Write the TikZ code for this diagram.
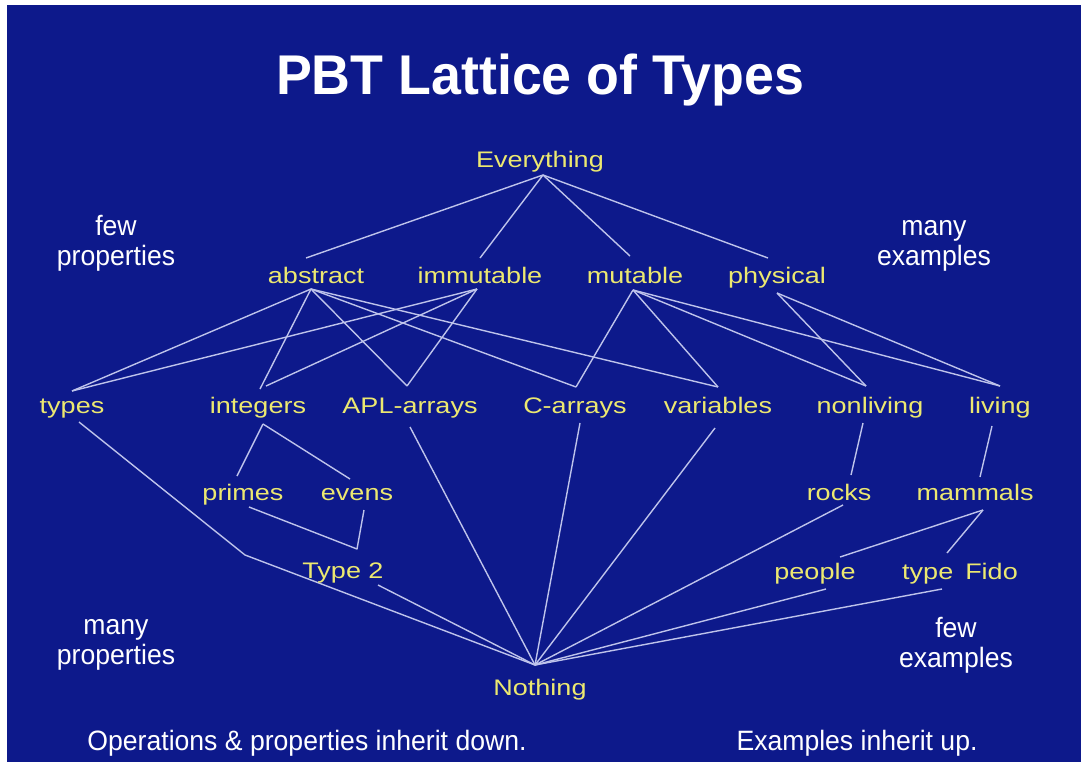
\documentclass[tikz,border=0pt]{standalone}
\usepackage{fontspec}
\newfontfamily\labfam[FakeStretch=1.2]{Liberation Sans}
\newfontfamily\notefam[FakeStretch=0.95]{Liberation Sans}
\newfontfamily\titlefam[FakeStretch=0.96]{Liberation Sans}
\newcommand\labfont{\labfam\fontsize{22.5}{27}\selectfont}
\newcommand\notefont{\notefam\fontsize{28}{30}\selectfont}
\newcommand\titlefont{\titlefam\bfseries\fontsize{56}{60}\selectfont}
\definecolor{bgblue}{RGB}{13,25,139}
\definecolor{labyellow}{RGB}{236,232,112}
\definecolor{linecol}{RGB}{190,195,235}
\tikzset{
  lab/.style={text=labyellow, font=\labfont, inner sep=0pt, anchor=base},
  note/.style={text=white, font=\notefont, inner sep=0pt, anchor=base, align=center},
  link/.style={draw=linecol, line width=1.4pt, line join=round},
}
\begin{document}
\begin{tikzpicture}[x=1pt,y=-1pt]
\useasboundingbox (0,0) rectangle (1081,762);
\fill[white] (0,0) rectangle (1081,762);
\fill[bgblue] (7,5) rectangle (1081,762);

% attachment points
\coordinate (evB) at (543,175);
\coordinate (abT) at (306,258);
\coordinate (imT) at (480,258);
\coordinate (muT) at (630,256);
\coordinate (phT) at (768,258);
\coordinate (abB) at (311,289);
\coordinate (imB) at (477,289);
\coordinate (muB) at (633,290);
\coordinate (phB) at (777,293);
\coordinate (tyT) at (72,391);
\coordinate (tyB) at (79,422);
\coordinate (tyBend) at (245,555);
\coordinate (inT1) at (260,389);
\coordinate (inT2) at (266,386);
\coordinate (inB) at (263,424);
\coordinate (apT) at (407,386);
\coordinate (apB) at (410,427);
\coordinate (caT) at (576,387);
\coordinate (caB) at (580,423);
\coordinate (vaT) at (718,387);
\coordinate (vaB) at (715,428);
\coordinate (nlT) at (866,386);
\coordinate (nlB) at (863,423);
\coordinate (lvT) at (1000,386);
\coordinate (lvB) at (992,426);
\coordinate (prT) at (237,476);
\coordinate (prB) at (249,507);
\coordinate (evT) at (350,479);
\coordinate (evnB) at (364,510);
\coordinate (t2T) at (357,549);
\coordinate (t2B) at (378,585);
\coordinate (rkT) at (851,475);
\coordinate (rkB) at (843,505);
\coordinate (mmT) at (980,477);
\coordinate (mmB) at (983,510);
\coordinate (ppT) at (840,557);
\coordinate (ppB) at (826,589);
\coordinate (tfT) at (947,553);
\coordinate (tfB) at (942,589);
\coordinate (noT) at (535,665);

% connectors
\draw[link] (evB) -- (abT);
\draw[link] (evB) -- (imT);
\draw[link] (evB) -- (muT);
\draw[link] (evB) -- (phT);
\draw[link] (abB) -- (tyT);
\draw[link] (abB) -- (inT1);
\draw[link] (abB) -- (apT);
\draw[link] (abB) -- (caT);
\draw[link] (abB) -- (vaT);
\draw[link] (imB) -- (tyT);
\draw[link] (imB) -- (inT2);
\draw[link] (imB) -- (apT);
\draw[link] (muB) -- (caT);
\draw[link] (muB) -- (vaT);
\draw[link] (muB) -- (nlT);
\draw[link] (muB) -- (lvT);
\draw[link] (phB) -- (nlT);
\draw[link] (phB) -- (lvT);
\draw[link] (inB) -- (prT);
\draw[link] (inB) -- (evT);
\draw[link] (prB) -- (t2T) -- (evnB);
\draw[link] (nlB) -- (rkT);
\draw[link] (lvB) -- (mmT);
\draw[link] (mmB) -- (ppT);
\draw[link] (mmB) -- (tfT);
\draw[link] (tyB) -- (tyBend) -- (noT);
\draw[link] (t2B) -- (noT);
\draw[link] (apB) -- (noT);
\draw[link] (caB) -- (noT);
\draw[link] (vaB) -- (noT);
\draw[link] (rkB) -- (noT);
\draw[link] (ppB) -- (noT);
\draw[link] (tfB) -- (noT);

% title
\node[text=white, font=\titlefont, inner sep=0pt, anchor=base] (title) at (540,95) {PBT Lattice of Types};

% labels
\node[lab] (everything) at (540,168) {Everything};
\node[lab] (abstract) at (316,283) {abstract};
\node[lab] (immutable) at (480,283) {immutable};
\node[lab] (mutable) at (635,283) {mutable};
\node[lab] (physical) at (777,283) {physical};
\node[lab] (types) at (72,413) {types};
\node[lab] (integers) at (258,413) {integers};
\node[lab] (apl) at (410,413) {APL-arrays};
\node[lab] (carrays) at (575,413) {C-arrays};
\node[lab] (variables) at (718,413) {variables};
\node[lab] (nonliving) at (870,413) {nonliving};
\node[lab] (living) at (1000,413) {living};
\node[lab] (primes) at (243,500) {primes};
\node[lab] (evens) at (357,500) {evens};
\node[lab] (rocks) at (839,500) {rocks};
\node[lab] (mammals) at (975,500) {mammals};
\node[lab] (type2) at (343,578) {Type 2};
\node[lab] (people) at (815,579) {people};
\node[lab] (typefido) at (960,579) {type\hspace{12pt}Fido};
\node[lab] (nothing) at (540,695) {Nothing};

% notes (base anchor = baseline of last line)
\node[note] (fewprop) at (116,265) {few\\properties};
\node[note] (manyex) at (934,265) {many\\examples};
\node[note] (manyprop) at (116,664) {many\\properties};
\node[note] (fewex) at (956,667) {few\\examples};
\node[note] (opsnote) at (307,750) {Operations \& properties inherit down.};
\node[note] (exnote) at (857,750) {Examples inherit up.};
\end{tikzpicture}
\end{document}
